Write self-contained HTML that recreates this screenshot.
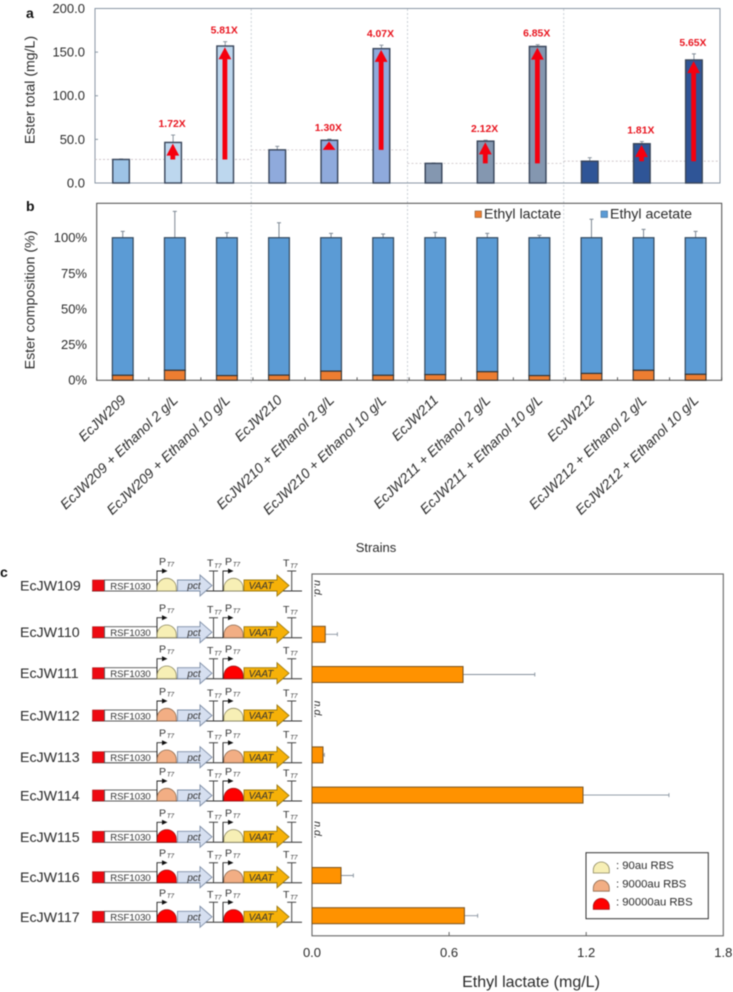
<!DOCTYPE html>
<html lang="en">
<head>
<meta charset="utf-8">
<title>Ester production chart</title>
<style>
html,body{margin:0;padding:0;background:#fff;width:733px;height:992px;overflow:hidden}
svg{display:block;filter:blur(0.4px)}
text{font-family:"Liberation Sans",sans-serif;fill:#2b2b2b}
</style>
</head>
<body>
<svg id="figure" xmlns="http://www.w3.org/2000/svg" width="733" height="992" viewBox="0 0 733 992">
<rect width="733" height="992" fill="#fff"/>
<text x="26" y="18" font-size="14" font-weight="700" style="fill:#111">a</text>
<text x="26" y="211" font-size="14" font-weight="700" style="fill:#111">b</text>
<text x="0" y="577" font-size="14" font-weight="700" style="fill:#111">c</text>
<text transform="translate(34.5 90) rotate(-90)" text-anchor="middle" font-size="14.1">Ester total (mg/L)</text>
<text transform="translate(34.5 300) rotate(-90)" text-anchor="middle" font-size="14.2">Ester composition  (%)</text>
<text x="376" y="552" text-anchor="middle" font-size="13">Strains</text>
<text x="531" y="987" text-anchor="middle" font-size="16">Ethyl lactate (mg/L)</text>
</svg>
<script>
var totalValues=[27,46.5,157,38,49,154,22.5,48,156.5,25,45,141];
var totalErrTop=[27.6,55,162,42,50.3,158,23,49,158.5,29,47.5,148];
var foldLabels=['','1.72X','5.81X','','1.30X','4.07X','','2.12X','6.85X','','1.81X','5.65X'];
var totalTicks=[0,50,100,150,200];
var lactatePct=[3.5,7,3.3,3.6,6.4,3.5,4,6,3.3,4.8,7,4.2];
var acetateErr=[4.4,18.5,3.5,10.5,3,2.6,3.7,3,1.6,12.9,5.8,4.4];
var pctTicks=[0,25,50,75,100];
var sampleNames=['EcJW209','EcJW209 + Ethanol 2 g/L','EcJW209 + Ethanol 10 g/L','EcJW210','EcJW210 + Ethanol 2 g/L','EcJW210 + Ethanol 10 g/L','EcJW211','EcJW211 + Ethanol 2 g/L','EcJW211 + Ethanol 10 g/L','EcJW212','EcJW212 + Ethanol 2 g/L','EcJW212 + Ethanol 10 g/L'];
var strainNames=['EcJW109','EcJW110','EcJW111','EcJW112','EcJW113','EcJW114','EcJW115','EcJW116','EcJW117'];
var lactateValues=[null,0.058,0.661,null,0.048,1.186,null,0.127,0.667];
var lactateErrEnd=[null,0.111,0.975,null,0.054,1.562,null,0.181,0.725];
var lactateTicks=[0,0.6,1.2,1.8];
var firstRbs=[0,0,0,1,1,1,2,2,2];
var secondRbs=[0,1,2,0,1,2,0,1,2];
var rbsNames=[': 90au RBS',': 9000au RBS',': 90000au RBS'];

var NS='http://www.w3.org/2000/svg';
var root=document.getElementById('figure');
function mk(tag,attrs,parent){
  var e=document.createElementNS(NS,tag);
  for(var k in attrs){e.setAttribute(k,attrs[k]);}
  (parent||root).appendChild(e);
  return e;
}
var groupFill=['#bdd7ee','#8faadc','#8497b0','#2f5597'];
var firstFill=['#9dc3e6','#8faadc','#8497b0','#2f5597'];
var rbsFill=['#f7efb5','#f2ae84','#ff0000'];
var rbsStroke=['#8d8860','#8d6a50','#9a1515'];
function xa(i){return 95+52.08*(i+0.5);}
function ya(v){return 183-v*0.8725;}
function xb(i){return 96.7+52.08*(i+0.5);}
function yb(v){return 380.3-v*1.426;}
function xc(v){return 312+v*228.5;}
function yc(i){return 574+40.2*(i+0.5);}
var rowBase=[591,637.7,678.7,721,762.7,801,842.3,882.7,922.3];
var i,j,n,t,b;

/* group dividers */
[1,2,3].forEach(function(g){
  var x=95+52.08*3*g;
  var d=mk('line',{x1:x,x2:x,y1:9,y2:384,stroke:'#bfc5cd','stroke-width':0.8,'stroke-dasharray':'2 2'});
  
  
});

/* panel a */
var frameA=mk('rect',{x:95,y:8.5,width:625,height:174.5,fill:'none',stroke:'#8a97a5','stroke-width':1});


totalTicks.forEach(function(v){
  var tk=mk('line',{x1:95,x2:98,y1:ya(v),y2:ya(v),stroke:'#8a97a5'});
  
  
  var lb=mk('text',{x:85,y:ya(v)+4.4,'text-anchor':'end','font-size':13});
  lb.textContent=v.toFixed(1);
  
  
});
for(i=0;i<12;i++){
  var g=Math.floor(i/3),ref=totalValues[g*3];
  if(i%3===0){
    var rl=mk('line',{x1:95+52.08*3*g,x2:95+52.08*3*(g+1),y1:ya(ref),y2:ya(ref),stroke:'#c9bfc3','stroke-width':0.8,'stroke-dasharray':'2 2'});
    
    
  }
  var eb=mk('path',{d:'M'+xa(i)+' '+ya(totalValues[i])+'V'+ya(totalErrTop[i])+'M'+(xa(i)-2)+' '+ya(totalErrTop[i])+'H'+(xa(i)+2),stroke:'#7d8894','stroke-width':0.9,fill:'none'});
  
  
  b=mk('rect',{x:xa(i)-8.3,y:ya(totalValues[i]),width:16.6,height:183-ya(totalValues[i]),fill:i%3===0?firstFill[g]:groupFill[g],stroke:'#38455a','stroke-width':1.4});
  
  
  if(foldLabels[i]){
    var tip=ya(totalValues[i])+1.2,tail=ya(ref),head=Math.min(12,tail-tip),cx=xa(i)-0.3;
    var ar=mk('path',{d:'M'+(cx-2.4)+' '+tail+'V'+(tip+head)+'H'+(cx-6.4)+'L'+cx+' '+tip+'L'+(cx+6.4)+' '+(tip+head)+'H'+(cx+2.4)+'V'+tail+'Z',fill:'#f5000f'});
    
    
    var fl=mk('text',{x:xa(i)-1,y:ya(totalErrTop[i])-8,'text-anchor':'middle','font-size':10.4,'font-weight':700,style:'fill:#e8141e'});
    fl.textContent=foldLabels[i];
    
    
  }
}

/* panel b */
var frameB=mk('rect',{x:96.7,y:203.3,width:625,height:177,fill:'none',stroke:'#4a4a4a','stroke-width':1});


pctTicks.forEach(function(v){
  var lb=mk('text',{x:87,y:yb(v)+4.4,'text-anchor':'end','font-size':13});
  lb.textContent=v+'%';
  
  
});
for(i=0;i<=12;i++){
  var bx=96.7+52.08*i;
  var tb=mk('line',{x1:bx,x2:bx,y1:380.3,y2:377.3,stroke:'#4a4a4a','stroke-width':0.9});
  
  
}
for(i=0;i<12;i++){
  var eb2=mk('path',{d:'M'+xb(i)+' '+yb(100)+'V'+yb(100+acetateErr[i])+'M'+(xb(i)-2)+' '+yb(100+acetateErr[i])+'H'+(xb(i)+2),stroke:'#7d8894','stroke-width':1,fill:'none'});
  
  
  var ba=mk('rect',{x:xb(i)-10.4,y:yb(100),width:20.8,height:yb(lactatePct[i])-yb(100),fill:'#5b9bd5',stroke:'#34495e','stroke-width':1.2});
  
  
  var bl=mk('rect',{x:xb(i)-10.4,y:yb(lactatePct[i]),width:20.8,height:380.3-yb(lactatePct[i]),fill:'#ed7d31',stroke:'#333','stroke-width':1.1});
  
  
  var sl=mk('text',{transform:'translate('+(xb(i)+4)+' 401) rotate(-44)','text-anchor':'end','font-size':13.9,'font-style':'italic'});
  sl.textContent=sampleNames[i];
  
  
}
var ls1=mk('rect',{x:475,y:211,width:6.5,height:6.5,fill:'#ed7d31',stroke:'#8a5a30','stroke-width':0.6});


var lt1=mk('text',{x:484,y:218.5,'font-size':14.2});
lt1.textContent='Ethyl lactate';


var ls2=mk('rect',{x:601,y:211,width:6.5,height:6.5,fill:'#5b9bd5',stroke:'#3d6b94','stroke-width':0.6});


var lt2=mk('text',{x:610,y:218.5,'font-size':14.2});
lt2.textContent='Ethyl acetate';



/* panel c : plot */
var frameC=mk('rect',{x:312,y:574,width:411.3,height:361.8,fill:'none',stroke:'#666','stroke-width':1.1});


lactateTicks.forEach(function(v){
  if(v>0&&v<1.8){
    var tk=mk('line',{x1:xc(v),x2:xc(v),y1:935.8,y2:932,stroke:'#666'});
    
    
  }
  var lb=mk('text',{x:xc(v),y:957,'text-anchor':'middle','font-size':13});
  lb.textContent=v.toFixed(1);
  
  
});
for(i=0;i<9;i++){
  if(lactateValues[i]===null){
    var nd=mk('text',{transform:'translate(314.5 '+(yc(i)-14)+') rotate(90)','font-size':10.5,'font-style':'italic'});
    nd.textContent='n.d.';
    
    
    continue;
  }
  var e3=mk('path',{d:'M'+xc(lactateValues[i])+' '+yc(i)+'H'+xc(lactateErrEnd[i])+'M'+xc(lactateErrEnd[i])+' '+(yc(i)-2)+'V'+(yc(i)+2),stroke:'#87929e','stroke-width':0.9,fill:'none'});
  
  
  var hb=mk('rect',{x:312,y:yc(i)-8,width:xc(lactateValues[i])-312,height:16,fill:'#ff9200',stroke:'#7a5420','stroke-width':1});
  
  
}

/* panel c : genetic constructs */
function dome(cx,base,rx,h,kind,parent){
  var d=mk('path',{d:'M'+(cx-rx)+' '+base+'V'+(base-h+rx)+'A'+rx+' '+rx+' 0 0 1 '+(cx+rx)+' '+(base-h+rx)+'V'+base+'Z',fill:rbsFill[kind],stroke:rbsStroke[kind],'stroke-width':0.8},parent);
  
  
}
function geneArrow(x0,x1,xh,base,fill,stroke,parent){
  var d=mk('path',{d:'M'+x0+' '+(base-11)+'H'+xh+'V'+(base-16)+'L'+x1+' '+(base-5.5)+'L'+xh+' '+(base+5)+'V'+base+'H'+x0+'Z',fill:fill,stroke:stroke,'stroke-width':0.9},parent);
  
  
}
function promoter(x,base,parent){
  var d=mk('path',{d:'M'+x+' '+base+'V'+(base-20)+'H'+(x+6),stroke:'#222','stroke-width':0.9,fill:'none'},parent);
  
  
  var h=mk('path',{d:'M'+(x+5)+' '+(base-22.5)+'L'+(x+10.5)+' '+(base-20)+'L'+(x+5)+' '+(base-17.5)+'Z',fill:'#111'},parent);
  
  
}
function terminator(x,base,parent){
  var d=mk('path',{d:'M'+x+' '+base+'V'+(base-20)+'M'+(x-4.5)+' '+(base-20)+'H'+(x+4.5),stroke:'#444','stroke-width':1,fill:'none'},parent);
  
  
}
function partLabel(letter,x,y,parent){
  var tx=mk('text',{x:x,y:y,'font-size':10.5,style:'fill:#333'},parent);
  
  
  var a=mk('tspan',{},tx);a.textContent=letter;
  var s=mk('tspan',{dy:1.5,'font-size':6.2,'font-style':'italic',dx:0.8},tx);s.textContent='T7';
}
for(i=0;i<9;i++){
  var base=rowBase[i];
  var rg=mk('g',{});
  
  
  var nm=mk('text',{x:20,y:base-0.5,'font-size':14.2},rg);
  nm.textContent=strainNames[i];
  
  
  var line=mk('line',{x1:92,x2:302,y1:base,y2:base,stroke:'#333','stroke-width':1},rg);
  
  
  var red=mk('rect',{x:92.5,y:base-11,width:12,height:11,fill:'#ee0a12',stroke:'#a01818','stroke-width':0.6},rg);
  
  
  var wb=mk('rect',{x:104.5,y:base-11,width:52.5,height:11,fill:'#fff',stroke:'#555','stroke-width':0.9},rg);
  
  
  var rt=mk('text',{x:130.5,y:base-1.6,'text-anchor':'middle','font-size':9.6,style:'fill:#333'},rg);
  rt.textContent='RSF1030';
  
  
  promoter(157,base,rg);
  dome(166.7,base,9.6,12.7,firstRbs[i],rg);
  geneArrow(177.5,212,200,base,'#d6dff0','#7d8da6',rg);
  var pt=mk('text',{x:194,y:base-1.8,'text-anchor':'middle','font-size':10,'font-style':'italic',style:'fill:#333'},rg);
  pt.textContent='pct';
  
  
  terminator(213.5,base,rg);
  promoter(223,base,rg);
  dome(233.5,base,9.6,12.7,secondRbs[i],rg);
  geneArrow(244,289,277,base,'#f6b108','#9c7a10',rg);
  var vt=mk('text',{x:261,y:base-1.8,'text-anchor':'middle','font-size':10,'font-style':'italic',style:'fill:#333'},rg);
  vt.textContent='VAAT';
  
  
  terminator(291.7,base,rg);
  partLabel('P',159,base-26,rg);
  partLabel('T',207,base-24.5,rg);
  partLabel('P',225,base-26,rg);
  partLabel('T',283,base-24.5,rg);
}

/* panel c : legend */
var lb=mk('rect',{x:586,y:852.7,width:122.3,height:66,fill:'#fff',stroke:'#333','stroke-width':1});


for(j=0;j<3;j++){
  var ly=873+18.2*j;
  dome(601.3,ly,8,11,j,root);
  var rn=mk('text',{x:616,y:ly-3.8,'font-size':11.3});
  rn.textContent=rbsNames[j];
  
  
}
</script>
</body>
</html>
